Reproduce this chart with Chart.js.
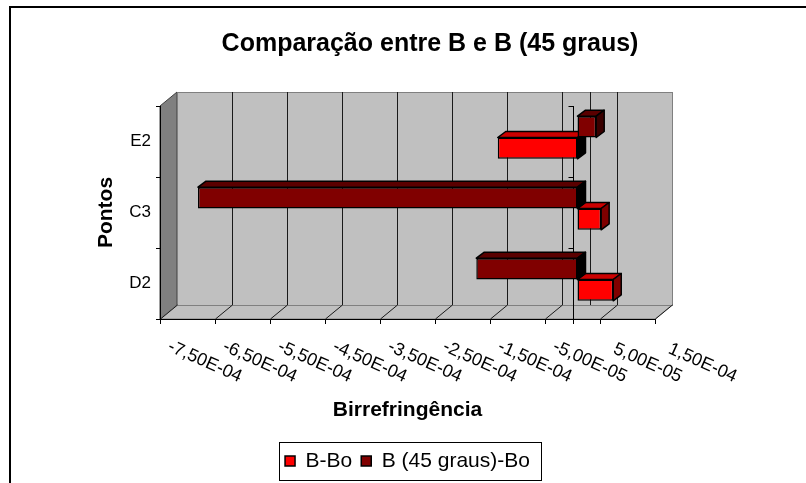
<!DOCTYPE html>
<html>
<head>
<meta charset="utf-8">
<script src="https://cdn.jsdelivr.net/npm/chart.js@4.4.1/dist/chart.umd.min.js"></script>
<style>
  body { margin: 0; background: #fff; }
  canvas { display: block; }
</style>
</head>
<body>
<canvas id="myChart" width="806" height="483"></canvas>
<script>
// ***** data *****
const pontos = ['E2', 'C3', 'D2']
const bBo = [-1.45e-4, 4.3e-5, 6.5e-5]
const b45Bo = [3.4e-5, -6.9e-4, -1.84e-4]
const tickValues = [-7.5e-4, -6.5e-4, -5.5e-4, -4.5e-4, -3.5e-4, -2.5e-4, -1.5e-4, -5e-5, 5e-5, 1.5e-4]
const tickLabels = ['-7,50E-04', '-6,50E-04', '-5,50E-04', '-4,50E-04', '-3,50E-04', '-2,50E-04', '-1,50E-04', '-5,00E-05', '5,00E-05', '1,50E-04']

// 3D look (Excel style)
const wallDx = 17, wallDy = 14
const barShiftX = 5, barShiftY = -4
const barDx = 8, barDy = 6
const faceColors = [
  { top: '#5a0000', side: '#3a0000' },  // B (45 graus)-Bo
  { top: '#cc0000', side: '#800000' }   // B-Bo
]

Chart.defaults.font.family = "'Liberation Sans', Arial, sans-serif"
Chart.defaults.color = '#000'

const poly = (ctx, pts, fill, stroke) => {
  ctx.beginPath()
  pts.forEach((p, i) => i ? ctx.lineTo(p[0], p[1]) : ctx.moveTo(p[0], p[1]))
  ctx.closePath()
  if (fill) { ctx.fillStyle = fill; ctx.fill() }
  if (stroke) { ctx.strokeStyle = stroke; ctx.stroke() }
}

const look3d = {
  id: 'look3d',
  beforeDraw(chart) {
    const { ctx, chartArea: a, scales: { x } } = chart
    ctx.save()
    ctx.fillStyle = '#fff'
    ctx.fillRect(0, 0, chart.width, chart.height)
    ctx.lineWidth = 2
    ctx.strokeStyle = '#000'
    ctx.strokeRect(10, 7, 900, 600)

    ctx.lineWidth = 1
    const L = a.left, R = a.right, T = a.top, B = a.bottom
    // side wall
    poly(ctx, [[L, T], [L + wallDx, T - wallDy], [L + wallDx, B - wallDy], [L, B]], '#808080', '#404040')
    // floor
    poly(ctx, [[L, B], [L + wallDx, B - wallDy], [R + wallDx, B - wallDy], [R, B]], '#c0c0c0', '#808080')
    // back wall
    ctx.fillStyle = '#c0c0c0'
    ctx.fillRect(L + wallDx, T - wallDy, R - L, B - T)
    ctx.strokeStyle = '#808080'
    ctx.strokeRect(L + wallDx + 0.5, T - wallDy + 0.5, R - L, B - T)

    // grid lines on wall and floor
    ctx.strokeStyle = '#1a1a1a'
    const xs = tickValues.map(v => Math.round(x.getPixelForValue(v)) + 0.5)
    xs.push(Math.round(x.getPixelForValue(0)) + 0.5)
    xs.forEach((px, i) => {
      ctx.beginPath()
      if (i > 0 && i < tickValues.length - 1 || i === tickValues.length) {
        ctx.moveTo(px + wallDx, T - wallDy)
        ctx.lineTo(px + wallDx, B - wallDy)
      }
      if (i < tickValues.length) {
        ctx.moveTo(px, B)
        ctx.lineTo(px + wallDx, B - wallDy)
      }
      ctx.stroke()
    })
    ctx.restore()
  },
  beforeDatasetsDraw(chart) {
    const { ctx, chartArea: a, scales: { x } } = chart
    // category axis line where x = 0
    const zx = Math.round(x.getPixelForValue(0)) + 0.5
    const n = pontos.length
    ctx.save()
    ctx.strokeStyle = '#000'
    ctx.lineWidth = 1
    ctx.beginPath()
    ctx.moveTo(zx, a.top)
    ctx.lineTo(zx, a.bottom + 5)
    for (let i = 0; i < n; i++) {
      const ty = Math.round(a.top + (a.bottom - a.top) * i / n) + 0.5
      ctx.moveTo(zx - 5, ty)
      ctx.lineTo(zx, ty)
    }
    ctx.stroke()
    ctx.restore()

    ctx.save()
    ctx.translate(barShiftX, barShiftY)
  },
  afterDatasetDraw(chart, args) {
    const { ctx } = chart
    const colors = faceColors[args.index]
    const values = chart.data.datasets[args.index].data
    ctx.save()
    ctx.lineWidth = 1.5
    ctx.lineJoin = 'round'
    args.meta.data.forEach((bar, i) => {
      const { x, y, base, height } = bar.getProps(['x', 'y', 'base', 'height'], true)
      const l = Math.min(x, base), r = Math.max(x, base)
      const t = y - height / 2, b = y + height / 2
      poly(ctx, [[l, t], [l + barDx, t - barDy], [r + barDx, t - barDy], [r, t]], colors.top, '#000')
      poly(ctx, [[r, t], [r + barDx, t - barDy], [r + barDx, b - barDy], [r, b]], values[i] < 0 ? '#000' : colors.side, '#000')
    })
    ctx.restore()
  },
  afterDatasetsDraw(chart) {
    chart.ctx.restore()
  },
  afterDraw(chart) {
    const { ctx, legend } = chart
    const hb = legend.legendHitBoxes
    if (!hb || !hb.length) return
    const left = Math.min(...hb.map(h => h.left)) - 6
    const right = Math.max(...hb.map(h => h.left + h.width)) + 11
    ctx.save()
    ctx.strokeStyle = '#000'
    ctx.lineWidth = 1
    ctx.strokeRect(Math.round(left) + 0.5, Math.round(legend.top) + 0.5, Math.round(right - left), Math.round(legend.bottom - legend.top) - 2)
    ctx.restore()
  }
}

// ***** The chart *****
const ctx = document.getElementById('myChart').getContext('2d')
const myChart = new Chart(ctx, {
  type: 'bar',
  data: {
    labels: pontos,
    datasets: [
      {
        label: 'B (45 graus)-Bo',
        data: b45Bo,
        backgroundColor: '#800000',
        borderColor: '#000',
        borderWidth: 1.5,
        borderSkipped: false,
        clip: false
      },
      {
        label: 'B-Bo',
        data: bBo,
        backgroundColor: '#ff0000',
        borderColor: '#000',
        borderWidth: 1.5,
        borderSkipped: false,
        clip: false
      }
    ]
  },
  options: {
    indexAxis: 'y',
    responsive: false,
    animation: false,
    events: [],
    categoryPercentage: 0.6,
    barPercentage: 1,
    layout: {
      autoPadding: false,
      padding: { left: 54, right: 0, top: 0, bottom: 1.5 }
    },
    plugins: {
      title: {
        display: true,
        text: 'Comparação entre B e B (45 graus)',
        font: { size: 25, weight: 'bold' },
        color: '#000',
        padding: { top: 29, bottom: 47 }
      },
      legend: {
        position: 'bottom',
        fullSize: false,
        reverse: true,
        labels: {
          boxWidth: 10,
          boxHeight: 10,
          padding: 9,
          font: { size: 21 },
          color: '#000'
        }
      },
      tooltip: { enabled: false }
    },
    scales: {
      x: {
        type: 'linear',
        min: -7.5e-4,
        max: 1.5e-4,
        afterBuildTicks: s => { s.ticks = tickValues.map(v => ({ value: v })) },
        afterFit: s => { s.height = 122.5 },
        grid: {
          drawOnChartArea: false,
          drawTicks: true,
          tickLength: 5,
          color: '#000'
        },
        border: { display: true, color: '#000' },
        ticks: {
          autoSkip: false,
          minRotation: -24,
          maxRotation: -24,
          labelOffset: 81,
          padding: 44,
          font: { size: 18 },
          color: '#000',
          callback: (v, i) => tickLabels[i]
        },
        title: {
          display: true,
          text: 'Birrefringência',
          font: { size: 21, weight: 'bold' },
          color: '#000',
          padding: { top: 0, bottom: 19 }
        }
      },
      y: {
        type: 'category',
        afterFit: s => { s.width = 106 },
        grid: {
          drawOnChartArea: false,
          tickLength: 4,
          color: '#000'
        },
        border: { display: true, color: '#000' },
        ticks: {
          padding: 5,
          font: { size: 17 },
          color: '#000'
        },
        title: {
          display: true,
          text: 'Pontos',
          font: { size: 21, weight: 'bold' },
          color: '#000',
          padding: { top: 40, bottom: 0 }
        }
      },
      yRight: {
        type: 'category',
        position: 'right',
        afterFit: s => { s.width = 151 },
        grid: { display: false },
        border: { display: false },
        ticks: { display: false }
      }
    }
  },
  plugins: [look3d]
})
// ***** The chart end *****
</script>
</body>
</html>
